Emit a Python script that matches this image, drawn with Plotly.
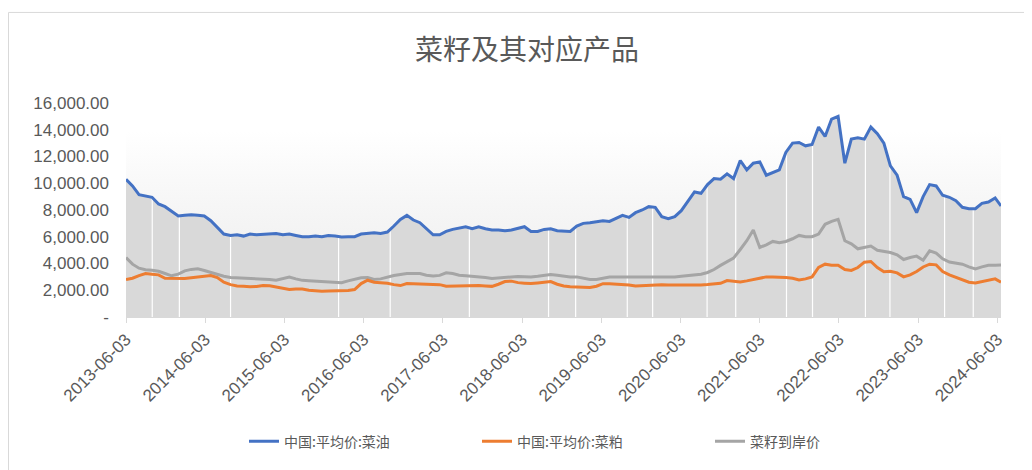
import numpy as np
import pandas as pd
import plotly.graph_objects as go

# ---------------- data ----------------
grid_dates = list(pd.date_range("2013-06-03", "2024-05-23", periods=134).strftime("%Y-%m-%d")) + ["2024-06-19"]

rapeseed_oil = [
    10300, 9800, 9150, 9050, 8950, 8450, 8250, 7900, 7550, 7600,
    7650, 7600, 7550, 7200, 6700, 6200, 6100, 6150, 6050, 6200,
    6150, 6200, 6200, 6250, 6150, 6200, 6100, 6000, 6000, 6050,
    6000, 6100, 6050, 5980, 6000, 6000, 6200, 6250, 6300, 6250,
    6350, 6800, 7300, 7600, 7250, 7050, 6600, 6150, 6150, 6400,
    6550, 6650, 6750, 6600, 6750, 6600, 6500, 6500, 6450, 6500,
    6600, 6750, 6400, 6400, 6550, 6600, 6450, 6400, 6400, 6800,
    7000, 7050, 7150, 7200, 7150, 7400, 7600, 7450, 7800, 8000,
    8250, 8200, 7500, 7350, 7500, 7950, 8600, 9350, 9250, 9900,
    10350, 10300, 10700, 10350, 11700, 11000, 11500, 11600, 10600, 10800,
    11000, 12300, 13000, 13050, 12800, 12900, 14200, 13500, 14800, 15000,
    11500, 13300, 13400, 13300, 14200, 13700, 13000, 11300, 10600, 9000,
    8800, 7800, 9000, 9900, 9800, 9100, 8950, 8700, 8200, 8100,
    8100, 8500, 8600, 8900, 8300,
]

rapeseed_meal = [
    2800, 2900, 3100, 3250, 3200, 3150, 2900, 2880, 2870, 2880,
    2930, 3000, 3080, 3100, 2950, 2600, 2420, 2320, 2300, 2260,
    2280, 2350, 2330, 2230, 2150, 2050, 2100, 2100, 2000, 1950,
    1930, 1940, 1950, 1960, 1980, 2050, 2500, 2750, 2600, 2560,
    2520, 2420, 2350, 2500, 2480, 2460, 2450, 2430, 2420, 2300,
    2320, 2340, 2360, 2370, 2350, 2320, 2290, 2450, 2650, 2680,
    2570, 2530, 2500, 2550, 2620, 2650, 2450, 2320, 2260, 2240,
    2220, 2200, 2300, 2490, 2480, 2470, 2460, 2400, 2310, 2350,
    2380, 2400, 2410, 2400, 2390, 2380, 2370, 2380, 2400, 2430,
    2470, 2520, 2720, 2680, 2620, 2700, 2800, 2930, 3000, 3000,
    3000, 2950, 2900, 2770, 2850, 3000, 3700, 3950, 3870, 3870,
    3550, 3480, 3700, 4100, 4150, 3700, 3380, 3420, 3300, 3000,
    3150, 3400, 3740, 3950, 3900, 3400, 3150, 2950, 2750, 2600,
    2550, 2650, 2800, 2850, 2600,
]

rapeseed_landed = [
    4450, 3950, 3650, 3540, 3500, 3420, 3250, 3080, 3200, 3450,
    3560, 3600, 3480, 3320, 3180, 3050, 2950, 2930, 2900, 2900,
    2880, 2870, 2800, 2750, 2880, 2990, 2850, 2740, 2710, 2690,
    2660, 2620, 2580, 2560, 2700, 2830, 2930, 2950, 2800, 2850,
    2990, 3100, 3180, 3250, 3250, 3250, 3120, 3060, 3110, 3300,
    3250, 3130, 3090, 3060, 3010, 2950, 2880, 2920, 2980, 3040,
    3030, 3010, 3000, 3050, 3110, 3170, 3120, 3050, 2995, 3000,
    2900, 2800, 2800, 2900, 2990, 3000, 3000, 3000, 3000, 3000,
    2990, 2970, 2960, 2950, 3000, 3050, 3090, 3130, 3200, 3330,
    3550, 3860, 4120, 4400, 5050, 5700, 6500, 5200, 5400, 5650,
    5560, 5650, 5850, 6100, 6000, 6000, 6200, 6930, 7150, 7300,
    5700, 5470, 5100, 5200, 5300, 4990, 4900, 4820, 4650, 4300,
    4450, 4550, 4250, 4950, 4780, 4350, 4110, 4050, 3950, 3750,
    3600, 3750, 3870, 3870, 3880,
]

# holiday gaps visible as thin white streaks in the shaded area
gap_dates = ["2013-10-02", "2014-02-04", "2014-09-28", "2016-02-08", "2016-10-03",
             "2017-10-03", "2018-10-03", "2019-02-05", "2019-10-01", "2020-01-26",
             "2020-10-03", "2021-02-12", "2021-10-04", "2022-02-01", "2022-10-03",
             "2023-01-24", "2023-10-03", "2024-02-12"]

tick_dates = [f"{y}-06-03" for y in range(2013, 2025)]
y_tickvals = [0, 2000, 4000, 6000, 8000, 10000, 12000, 14000, 16000]
y_ticktext = ["-", "2,000.00", "4,000.00", "6,000.00", "8,000.00", "10,000.00",
              "12,000.00", "14,000.00", "16,000.00"]

series_names = ["中国:平均价:菜油", "中国:平均价:菜粕", "菜籽到岸价"]
series_colors = ["#4472C4", "#ED7D31", "#A5A5A5"]
title_text = "菜籽及其对应产品"
shade_top = 13900

# ---------------- figure ----------------
OFF = 8                      # page body margin
W, H = 1032 - OFF, 470 - OFF
# plot box in page pixels: left 126, right 1001, top 103.3, bottom 316.7
ML = 126 - OFF
MR = W - (1001 - OFF)
MT = 103.3 - OFF
MB = H - (316.7 - OFF)
PW, PH = W - ML - MR, H - MT - MB

def px2paper_x(px):          # page px -> paper
    return (px - OFF - ML) / PW

def py2paper_y(py):
    return (H - MB - (py - OFF)) / PH

text_color = "#595959"
fonts = "Liberation Sans, Arial, Noto Sans CJK SC, sans-serif"
cjk = "Noto Sans CJK SC, sans-serif"

fig = go.Figure()

# background gradient band
fig.add_trace(go.Scatter(
    x=[grid_dates[0], grid_dates[-1]], y=[shade_top, shade_top],
    mode="lines", line=dict(width=0), fill="tozeroy",
    fillgradient=dict(type="vertical", start=0, stop=shade_top,
                      colorscale=[[0, "#ebebeb"], [0.6, "#f6f6f6"], [1, "#ffffff"]]),
    showlegend=False, hoverinfo="skip"))

# shaded area under the oil price
fig.add_trace(go.Scatter(
    x=grid_dates, y=rapeseed_oil, mode="lines", line=dict(width=0),
    fill="tozeroy", fillcolor="#d9d9d9", showlegend=False, hoverinfo="skip"))

# white holiday streaks up to the oil price
gd = pd.to_datetime(grid_dates).map(pd.Timestamp.toordinal).to_numpy(dtype=float)
gx, gy = [], []
for d in gap_dates:
    top = float(np.interp(pd.Timestamp(d).toordinal(), gd, rapeseed_oil))
    gx += [d, d, None]
    gy += [0, top, None]
fig.add_trace(go.Scatter(x=gx, y=gy, mode="lines", line=dict(color="white", width=1.2),
                         showlegend=False, hoverinfo="skip"))

# draw order: gray, orange, blue on top; legend order blue, orange, gray
data_vals = [rapeseed_oil, rapeseed_meal, rapeseed_landed]
for i in [2, 1, 0]:
    fig.add_trace(go.Scatter(
        x=grid_dates, y=data_vals[i], mode="lines", name=series_names[i],
        line=dict(color=series_colors[i], width=3), legendrank=i + 1))

fig.update_layout(
    width=W, height=H,
    margin=dict(l=ML, r=MR, t=MT, b=MB, autoexpand=False),
    paper_bgcolor="white", plot_bgcolor="rgba(0,0,0,0)",
    font=dict(family=fonts, color=text_color, size=17),
    title=dict(text=title_text, x=(527 - OFF) / W, xanchor="center",
               y=1 - (50 - OFF) / H, yanchor="middle",
               font=dict(size=28, color=text_color, family=cjk)),
    showlegend=True,
    legend=dict(orientation="h", x=px2paper_x(244), xanchor="left",
                y=py2paper_y(441), yanchor="middle",
                font=dict(size=14, color=text_color, family=cjk),
                entrywidth=188, entrywidthmode="pixels", traceorder="normal",
                bgcolor="rgba(0,0,0,0)"),
    hovermode=False,
)

fig.update_xaxes(
    type="date", range=[grid_dates[0], grid_dates[-1]],
    tickvals=tick_dates, ticktext=tick_dates, tickangle=-45,
    showgrid=False, zeroline=False,
    showline=True, linecolor="#d9d9d9", linewidth=1,
    ticks="outside", ticklen=5, tickcolor="#d9d9d9",
    tickfont=dict(size=17, color=text_color),
)
fig.update_yaxes(
    range=[0, 16000], tickvals=y_tickvals, ticktext=y_ticktext,
    showgrid=False, zeroline=False, showline=False, ticks="",
    ticklabelstandoff=16,
    tickfont=dict(size=17, color=text_color),
)

# outer chart border (left and top edges visible)
border = "#d9d9d9"
fig.add_shape(type="line", xref="paper", yref="paper",
              x0=px2paper_x(8.5), x1=px2paper_x(8.5), y0=py2paper_y(13), y1=py2paper_y(480),
              line=dict(color=border, width=1))
fig.add_shape(type="line", xref="paper", yref="paper",
              x0=px2paper_x(8.5), x1=px2paper_x(1040), y0=py2paper_y(13), y1=py2paper_y(13),
              line=dict(color=border, width=1))

fig.write_html("out.html")
